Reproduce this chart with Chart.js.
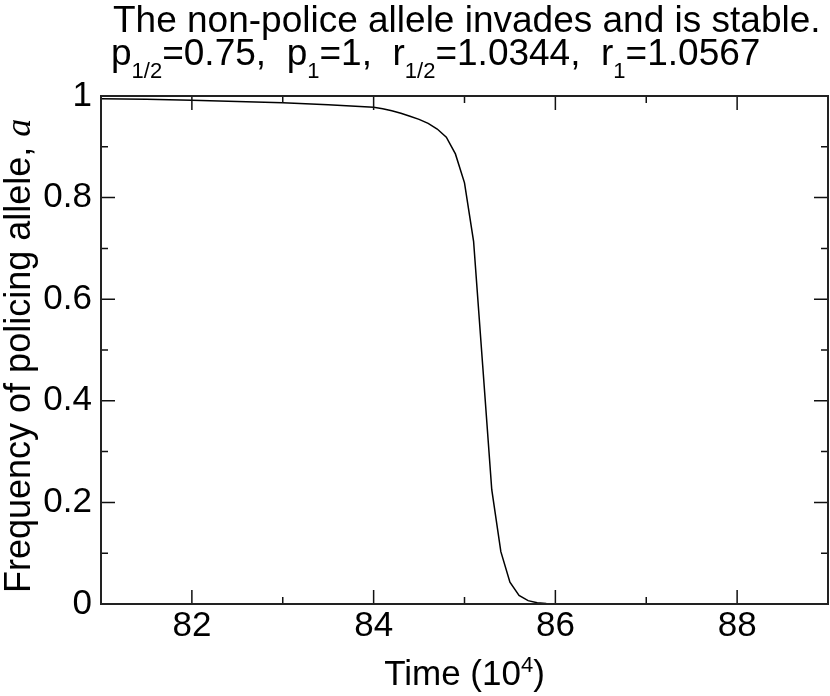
<!DOCTYPE html>
<html>
<head>
<meta charset="utf-8">
<script src="https://cdn.jsdelivr.net/npm/chart.js@4.4.1/dist/chart.umd.min.js"></script>
<style>
  html, body { margin: 0; padding: 0; background: #fff; }
  #wrap { position: relative; width: 830px; height: 696px; overflow: hidden; font-family: "Liberation Sans", Arial, Helvetica, sans-serif; color: #000; }
  #c { position: absolute; left: 0; top: 0; }
  .t { position: absolute; white-space: pre; }
  .sub { position: relative; font-size: 22px; top: 13px; }
  .sup { position: relative; font-size: 22px; top: -13px; }
  .it { font-family: "Liberation Serif", "Times New Roman", serif; font-style: italic; }
</style>
</head>
<body>
<div id="wrap">
  <canvas id="c" width="830" height="696"></canvas>
  <div class="t" id="title1" style="left:113px; top:1px; font-size:37px; line-height:37px;">The non-police allele invades and is stable.</div>
  <div class="t" id="title2" style="left:111px; top:34px; font-size:37px; line-height:37px;">p<span class="sub">1/2</span>=0.75,  p<span class="sub">1</span>=1,  r<span class="sub">1/2</span>=1.0344,  r<span class="sub">1</span>=1.0567</div>
  <div class="t" id="xtitle" style="left:101px; width:727px; text-align:center; top:655px; font-size:35px; line-height:35px;">Time (10<span class="sup">4</span>)</div>
  <div class="t" id="ytitle" style="left:0; top:0; font-size:36px; line-height:36px; transform-origin:0 0; transform: translate(0px, 593px) rotate(-90deg);">Frequency of policing allele, <span class="it">a</span></div>
</div>
<script>
// ---- data ----
const time = [81, 81.5, 82, 82.5, 83, 83.5, 84, 84.1, 84.2, 84.3, 84.4, 84.5, 84.6, 84.7, 84.8, 84.9,
              85.0, 85.1, 85.2, 85.3, 85.4, 85.5, 85.6, 85.7, 85.8, 85.9, 86.0, 86.5, 87, 88, 89];
const freq = [0.9945, 0.9935, 0.9917, 0.9893, 0.9866, 0.983, 0.978, 0.975, 0.971, 0.966, 0.960, 0.954, 0.946, 0.935, 0.919, 0.886,
              0.829, 0.714, 0.47, 0.225, 0.103, 0.043, 0.017, 0.0066, 0.0025, 0.0009, 0.0003, 0.0, 0.0, 0.0, 0.0];

const xMajorTicks = [82, 84, 86, 88];
const xMinorTicks = [83, 85, 87];
const yMajorTicks = [0.2, 0.4, 0.6, 0.8];
const yMinorTicks = [0.1, 0.3, 0.5, 0.7, 0.9];

const FONT = '"Liberation Sans", Arial, Helvetica, sans-serif';

const framePlugin = {
  id: 'frame',
  afterDatasetsDraw(chart) {
    const { ctx, chartArea: a, scales } = chart;
    const xs = scales.x, ys = scales.y;
    ctx.save();
    ctx.strokeStyle = '#111';
    ctx.lineWidth = 1.5;
    ctx.beginPath();
    const tick = (vals, len) => {
      vals.forEach(v => {
        const px = xs.getPixelForValue(v);
        ctx.moveTo(px, a.bottom); ctx.lineTo(px, a.bottom - len);
        ctx.moveTo(px, a.top); ctx.lineTo(px, a.top + len);
      });
    };
    const tickY = (vals, len) => {
      vals.forEach(v => {
        const py = ys.getPixelForValue(v);
        ctx.moveTo(a.left, py); ctx.lineTo(a.left + len, py);
        ctx.moveTo(a.right, py); ctx.lineTo(a.right - len, py);
      });
    };
    tick(xMajorTicks, 14); tick(xMinorTicks, 7);
    tickY(yMajorTicks, 14); tickY(yMinorTicks, 7);
    ctx.stroke();
    ctx.lineWidth = 2;
    ctx.strokeStyle = '#222';
    ctx.strokeRect(a.left, a.top, a.right - a.left, a.bottom - a.top);
    ctx.restore();
  }
};

new Chart(document.getElementById('c'), {
  type: 'scatter',
  data: {
    datasets: [{
      data: time.map((t, i) => ({ x: t, y: freq[i] })),
      showLine: true,
      borderColor: '#000',
      borderWidth: 1.5,
      pointRadius: 0,
      tension: 0,
      fill: false
    }]
  },
  options: {
    responsive: false,
    animation: false,
    devicePixelRatio: 1,
    layout: { padding: { left: 0, right: 2, top: 96, bottom: 0 } },
    plugins: { legend: { display: false }, tooltip: { enabled: false }, title: { display: false } },
    scales: {
      x: {
        type: 'linear', min: 81, max: 89,
        grid: { display: false, drawTicks: false },
        border: { display: false },
        ticks: {
          stepSize: 1, autoSkip: false, maxRotation: 0, padding: 1,
          color: '#000', font: { family: FONT, size: 35 },
          callback: v => (v % 2 === 0 && v > 81 && v < 89) ? String(v) : ''
        },
        afterFit: s => { s.height = 92; s.paddingLeft = 0; s.paddingRight = 0; }
      },
      y: {
        type: 'linear', min: 0, max: 1,
        grid: { display: false, drawTicks: false },
        border: { display: false },
        ticks: {
          stepSize: 0.2, padding: 9,
          color: '#000', font: { family: FONT, size: 35 },
          callback: v => (Math.abs(v) < 1e-9 ? '0' : Math.abs(v - 1) < 1e-9 ? '1' : v.toFixed(1))
        },
        afterFit: s => { s.width = 101; s.paddingTop = 0; s.paddingBottom = 0; }
      }
    }
  },
  plugins: [framePlugin]
});
</script>
</body>
</html>
